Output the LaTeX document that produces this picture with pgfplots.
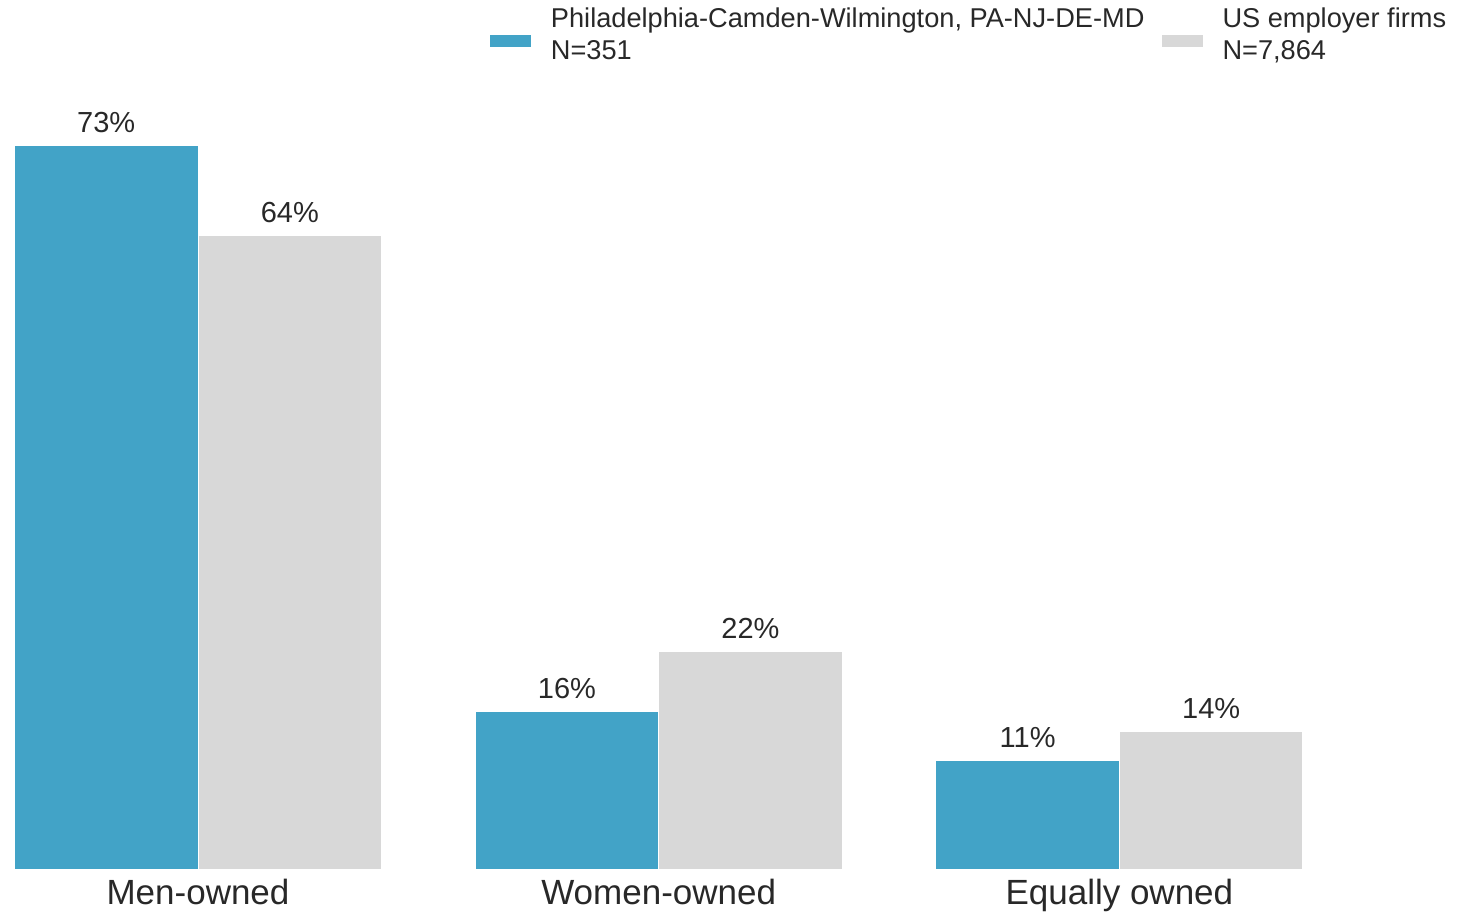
\documentclass[border=0pt]{standalone}
\usepackage{pgfplots}
\pgfplotsset{compat=1.18}
\usepackage{fontspec}
\setmainfont{Liberation Sans}
\definecolor{cblue}{RGB}{66,163,199}
\definecolor{cgray}{RGB}{216,216,216}
\definecolor{ctext}{RGB}{40,40,40}
\begin{document}
\begin{tikzpicture}
\begin{axis}[
  at={(0,0)}, anchor=south west,
  scale only axis,
  width=730pt, height=435pt,
  xmin=-0.4298, xmax=2.7394,
  ymin=0, ymax=87.72,
  axis line style={draw=none},
  ytick=\empty,
  xtick={0,1,2},
  xticklabels={Men-owned,Women-owned,Equally owned},
  major tick length=0pt,
  /pgf/number format/assume math mode=true,
  xticklabel style={anchor=base, yshift=-17.5pt, font=\fontsize{17.5}{20}\selectfont, text=ctext, inner sep=0pt},
  ybar, bar width=0.3985,
  nodes near coords={\pgfmathprintnumber{\pgfplotspointmeta}\%},
  every node near coord/.append style={anchor=base, yshift=6.5pt, font=\fontsize{14.5}{16}\selectfont, text=ctext, inner sep=0pt},
  legend columns=2,
  legend cell align=left,
  legend style={at={(rel axis cs:0.3349,1.0)}, yshift=-4pt, anchor=north west, draw=none, fill=none, inner sep=0pt, outer sep=0pt,
    font=\fontsize{13.6}{16}\selectfont, text=ctext,
    nodes={inner sep=0pt, align=left},
    /tikz/every odd column/.append style={column sep=9.5pt},
    /tikz/every even column/.append style={column sep=8pt}},
  legend image code/.code={\fill[#1] (0pt,-6pt) rectangle (21pt,0.5pt);},
]
\addplot[fill=cblue, draw=white, line width=0.5pt, bar shift=-0.19925] coordinates {(0,73) (1,16) (2,11)};
\addplot[fill=cgray, draw=white, line width=0.5pt, bar shift=0.19925] coordinates {(0,64) (1,22) (2,14)};
\legend{{Philadelphia-Camden-Wilmington, PA-NJ-DE-MD\\N=351}, {US employer firms\\N=7,864}}
\end{axis}
\pgfresetboundingbox
\path (0,-22pt) rectangle (730pt,435pt);
\end{tikzpicture}
\end{document}
